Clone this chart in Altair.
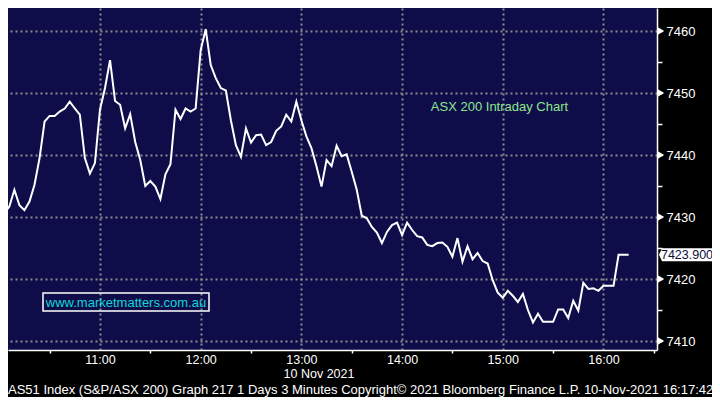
import altair as alt
import pandas as pd

# ---- data ----
minutes = list(range(600, 600 + 3 * 126, 3))  # 10:00 .. 16:15, 3-minute bars
values = [
    7425.0, 7430.6, 7431.7, 7434.4, 7431.9, 7431.1, 7432.5, 7435.2, 7439.5, 7445.4,
    7446.3, 7446.3, 7447.0, 7447.5, 7448.6, 7447.5, 7446.5, 7439.5, 7437.0, 7438.7,
    7447.3, 7450.8, 7455.3, 7448.7, 7448.1, 7444.3, 7446.6, 7442.1, 7439.2, 7435.0,
    7435.8, 7434.9, 7432.9, 7436.9, 7438.5, 7447.3, 7445.8, 7447.5, 7447.0, 7447.5,
    7456.9, 7460.3, 7454.5, 7452.4, 7450.8, 7450.4, 7445.6, 7441.6, 7439.7, 7444.3,
    7442.0, 7443.2, 7443.3, 7441.6, 7442.1, 7443.9, 7444.6, 7446.5, 7445.4, 7448.6,
    7445.6, 7443.0, 7441.1, 7438.2, 7434.9, 7439.2, 7438.2, 7441.5, 7439.8, 7440.1,
    7437.3, 7434.4, 7430.2, 7429.8, 7428.4, 7427.5, 7425.8, 7427.6, 7428.7, 7429.1,
    7427.1, 7429.1, 7427.9, 7426.9, 7426.7, 7425.5, 7425.3, 7425.8, 7425.9, 7425.2,
    7423.6, 7426.6, 7422.8, 7425.3, 7423.2, 7424.2, 7422.9, 7422.5, 7419.8, 7417.8,
    7417.0, 7418.1, 7417.3, 7416.3, 7417.6, 7415.0, 7413.0, 7414.4, 7413.1, 7413.1,
    7413.1, 7415.1, 7415.1, 7413.7, 7416.5, 7414.9, 7419.4, 7418.4, 7418.5, 7418.1,
    7418.9, 7418.9, 7418.9, 7423.9, 7423.9, 7423.9,
]
y_ticks = [7410, 7415, 7420, 7425, 7430, 7435, 7440, 7445, 7450, 7455, 7460]
y_major = [7410, 7420, 7430, 7440, 7450, 7460]
x_ticks = [630, 660, 690, 720, 750, 780, 810, 840, 870, 900, 930, 960, 990]

title_text = "ASX 200 Intraday Chart"
url_text = "www.marketmatters.com.au"
date_text = "10 Nov 2021"
footer_text = ("AS51 Index (S&P/ASX 200) Graph 217 1 Days 3 Minutes Copyright\u00a9 2021 "
               "Bloomberg Finance L.P. 10-Nov-2021 16:17:42")

# ---- layout ----
W, H = 649, 342
FONT = "Liberation Sans"
BG = "#0e0d4a"

df = pd.DataFrame({"t": minutes, "v": values})
last = pd.DataFrame({"v": [values[-1]], "label": [f"{values[-1]:.3f}"]})
major = pd.DataFrame({"v": y_major})
one = pd.DataFrame({"a": [0]})

xscale = alt.Scale(domain=[605.2, 991.9], nice=False, zero=False)
yscale = alt.Scale(domain=[7408.55, 7463.71], nice=False, zero=False)

x_axis = alt.Axis(
    values=x_ticks, title=None, orient="bottom",
    labelExpr="datum.value % 60 == 0 ? (floor(datum.value / 60) + ':00') : ''",
    grid=True, gridColor="#8c8c8c", gridDash=[2, 3], gridWidth=2,
    gridOpacity={"condition": {"test": "datum.value % 60 != 0", "value": 0}, "value": 1},
    tickOpacity={"condition": {"test": "datum.value % 60 == 0", "value": 0}, "value": 1},
    domainColor="white", domainWidth=1.5, tickColor="white", tickSize=3, tickWidth=1.5,
    labelColor="white", labelFont=FONT, labelFontSize=12.5, labelPadding=0,
    labelBaseline="top", labelFlush=False, labelOverlap=False,
)
y_axis = alt.Axis(
    values=y_ticks, title=None, orient="right",
    labelExpr="datum.value % 10 == 0 ? format(datum.value, 'd') : ''",
    grid=True, gridColor="#8c8c8c", gridDash=[2, 3], gridWidth=2,
    gridOpacity={"condition": {"test": "datum.value % 10 != 0", "value": 0}, "value": 1},
    domainColor="white", domainWidth=1.5, tickColor="white", tickSize=5, tickWidth=1.5,
    labelColor="white", labelFont=FONT, labelFontSize=13, labelPadding=4,
    labelBaseline="middle", labelFlush=False, labelOverlap=False,
)

Y = lambda: alt.Y("v:Q", scale=yscale, axis=y_axis)

line = alt.Chart(df).mark_line(color="white", strokeWidth=2, clip=True).encode(
    x=alt.X("t:Q", scale=xscale, axis=x_axis),
    y=Y(),
)

arrows = alt.Chart(major).mark_point(
    shape="triangle-right", filled=True, color="white", size=55, opacity=1
).encode(x=alt.value(W + 4), y=Y())

tag_path = "M-1,0L-0.887,-0.245L1,-0.245L1,0.245L-0.887,0.245Z"
tag = alt.Chart(last).mark_point(
    shape=tag_path, filled=True, color="white", size=53 * 53, opacity=1
).encode(x=alt.value(W + 2 + 26.5), y=Y())

tag_text = alt.Chart(last).mark_text(
    color="#0e0d3a", font=FONT, fontSize=12.5, align="center", baseline="middle"
).encode(x=alt.value(W + 30), y=Y(), text="label:N")

title = alt.Chart(one).mark_text(
    text=title_text, color="#8ee58e", font=FONT, fontSize=13,
    align="center", baseline="middle"
).encode(x=alt.value(491.5), y=alt.value(98.5))

url_box = alt.Chart(one).mark_rect(
    fillOpacity=0, stroke="white", strokeWidth=1.5
).encode(x=alt.value(35), x2=alt.value(201), y=alt.value(285), y2=alt.value(303))

url = alt.Chart(one).mark_text(
    text=url_text, color="#14d6d6", font=FONT, fontSize=13,
    align="center", baseline="middle"
).encode(x=alt.value(118), y=alt.value(294.5))

date = alt.Chart(one).mark_text(
    text=date_text, color="white", font=FONT, fontSize=12.5,
    align="center", baseline="middle"
).encode(x=alt.value(311), y=alt.value(366))

footer = alt.Chart(one).mark_text(
    text=footer_text, color="white", font=FONT, fontSize=13,
    align="left", baseline="alphabetic"
).encode(x=alt.value(0), y=alt.value(386))

chart = alt.layer(
    line, arrows, tag, tag_text, title, url_box, url, date, footer
).properties(
    width=W, height=H,
    autosize=alt.AutoSizeParams(type="none"),
    padding={"left": 0, "top": 0, "right": 55, "bottom": 47},
    background="#000000",
).configure_view(fill=BG, strokeWidth=0)

chart.save("out.html", embed_options={"renderer": "svg", "actions": False})
